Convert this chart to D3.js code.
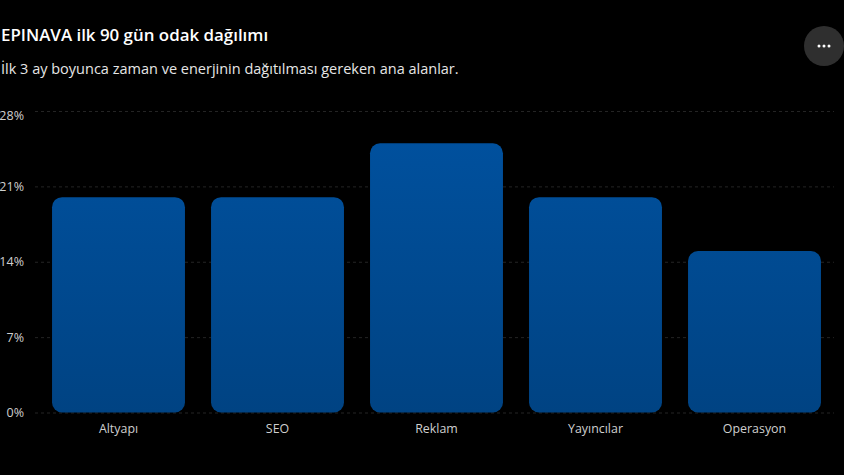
<!DOCTYPE html>
<html lang="tr">
<head>
<meta charset="utf-8">
<script src="https://cdn.jsdelivr.net/npm/d3@7/dist/d3.min.js"></script>
<style>
  html, body { margin: 0; background: #000; overflow: hidden; }
  text { font-family: "Open Sans", "Noto Sans", sans-serif; }
</style>
</head>
<body>
<script>
const categories = ["Altyapı", "SEO", "Reklam", "Yayıncılar", "Operasyon"];
const shares = [20, 20, 25, 20, 15];
const tickValues = [0, 7, 14, 21, 28];
const chartTitle = "EPINAVA ilk 90 gün odak dağılımı";
const chartSubtitle = "İlk 3 ay boyunca zaman ve enerjinin dağıtılması gereken ana alanlar.";

const width = 844, height = 475;
const plot = { left: 39, right: 834, top: 111, bottom: 412.5 };

const svg = d3.select("body").append("svg")
  .attr("width", width).attr("height", height)
  .style("display", "block");

const x = d3.scaleBand().domain(categories).range([plot.left, plot.right]).paddingInner(0.164).paddingOuter(0.082);
const y = d3.scaleLinear().domain([0, 28]).range([plot.bottom, plot.top]);

// Vertical gradient shared by all bars
const grad = svg.append("defs").append("linearGradient")
  .attr("id", "barFill").attr("gradientUnits", "userSpaceOnUse")
  .attr("x1", 0).attr("x2", 0).attr("y1", y(25)).attr("y2", y(0));
grad.append("stop").attr("offset", 0).attr("stop-color", "#00509d");
grad.append("stop").attr("offset", 1).attr("stop-color", "#004383");

svg.append("text").attr("x", 1).attr("y", 41)
  .attr("font-size", 16.9).attr("font-weight", 600).attr("fill", "#fff")
  .text(chartTitle);
svg.append("text").attr("x", 1).attr("y", 74)
  .attr("font-size", 14.5).attr("fill", "#e6e6e6")
  .text(chartSubtitle);

// Horizontal grid, drawn with the y axis and its tick labels
const yAxis = svg.append("g")
  .attr("transform", `translate(${plot.left},0)`)
  .call(d3.axisLeft(y).tickValues(tickValues).tickFormat(d => d + "%").tickSize(0).tickPadding(15));
yAxis.select(".domain").remove();
yAxis.selectAll("text").attr("font-size", 12.5).attr("fill", "#cfcfcf")
  .attr("dy", d => d === 28 ? "0.65em" : "0.32em");
yAxis.selectAll(".tick").append("line")
  .attr("x1", -4).attr("x2", plot.right - plot.left)
  .attr("stroke", "#242424").attr("stroke-dasharray", "3 3");

svg.append("g").selectAll("rect").data(categories).join("rect")
  .attr("x", d => x(d))
  .attr("width", x.bandwidth())
  .attr("y", (d, i) => y(shares[i]))
  .attr("height", (d, i) => y(0) - y(shares[i]))
  .attr("rx", 10).attr("ry", 10)
  .attr("fill", "url(#barFill)");

const xAxis = svg.append("g")
  .attr("transform", `translate(0,${plot.bottom})`)
  .call(d3.axisBottom(x).tickSize(0).tickPadding(12));
xAxis.select(".domain").remove();
xAxis.selectAll("text").attr("font-size", 12.4).attr("fill", "#cfcfcf");

// Round overflow-menu button in the top-right corner
const menu = svg.append("g").attr("transform", "translate(824,46)");
menu.append("circle").attr("r", 20).attr("fill", "#2f2f2f");
menu.selectAll("circle.dot").data([-5, 0, 5]).join("circle")
  .attr("class", "dot").attr("cx", d => d).attr("r", 1.5).attr("fill", "#fff");
</script>
</body>
</html>
